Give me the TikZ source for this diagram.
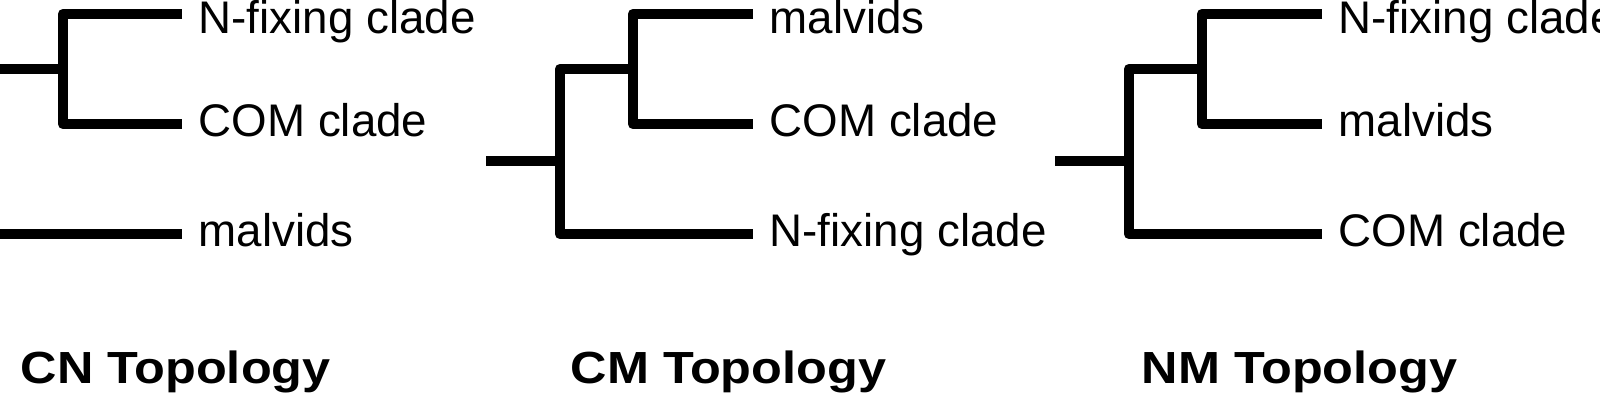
\documentclass[tikz,border=0pt]{standalone}
\usepackage{fontspec}
\setmainfont{Liberation Sans}
\newfontfamily\topofont[FakeStretch=1.12]{Liberation Sans}
\usetikzlibrary{positioning}
\tikzset{
    branch/.style={line width=3pt, line join=round},
    taxon/.style={anchor=west, inner sep=0pt, text height=2.5mm, text depth=0pt, font=\fontsize{13}{15}\selectfont},
    uppertaxon/.style={taxon, yshift=-0.7mm},
    topo/.style={anchor=base west, inner sep=0pt, font=\topofont\bfseries\fontsize{12.8}{15}\selectfont}
}
\begin{document}
\begin{tikzpicture}[x=0.01cm, y=-0.01cm]
    \useasboundingbox (0,0) rectangle (1600,400);
    \clip (0,0) rectangle (1600,400);

    % CN topology, root lies left of the frame
    \coordinate (r1) at (-84,161);
    \coordinate (o1) at (-10,161);
    \coordinate (i1) at (63,69);
    \coordinate (a1) at (182,14);
    \coordinate (b1) at (182,124);
    \coordinate (c1) at (182,234);
    \draw[branch] (a1) -| (i1) |- (b1);
    \draw[branch] (i1) -| (o1) |- (c1);
    \draw[branch] (r1) -- (o1);
    \node[uppertaxon, right=1.6mm of a1] (na1) {N-fixing clade};
    \node[taxon, right=1.6mm of b1] (nb1) {COM clade};
    \node[taxon, right=1.6mm of c1] (nc1) {malvids};
    \node[topo] (cn) at (20,383) {CN Topology};

    % CM topology
    \coordinate (r2) at (486,161);
    \coordinate (o2) at (560,161);
    \coordinate (i2) at (633,69);
    \coordinate (a2) at (753,14);
    \coordinate (b2) at (753,124);
    \coordinate (c2) at (753,234);
    \draw[branch] (a2) -| (i2) |- (b2);
    \draw[branch] (i2) -| (o2) |- (c2);
    \draw[branch] (r2) -- (o2);
    \node[uppertaxon, right=1.6mm of a2] (na2) {malvids};
    \node[taxon, right=1.6mm of b2] (nb2) {COM clade};
    \node[taxon, right=1.6mm of c2] (nc2) {N-fixing clade};
    \node[topo] (cm) at (570,383) {CM Topology};

    % NM topology
    \coordinate (r3) at (1055,161);
    \coordinate (o3) at (1129,161);
    \coordinate (i3) at (1202,69);
    \coordinate (a3) at (1322,14);
    \coordinate (b3) at (1322,124);
    \coordinate (c3) at (1322,234);
    \draw[branch] (a3) -| (i3) |- (b3);
    \draw[branch] (i3) -| (o3) |- (c3);
    \draw[branch] (r3) -- (o3);
    \node[uppertaxon, right=1.6mm of a3] (na3) {N-fixing clade};
    \node[taxon, right=1.6mm of b3] (nb3) {malvids};
    \node[taxon, right=1.6mm of c3] (nc3) {COM clade};
    \node[topo] (nm) at (1141,383) {NM Topology};
\end{tikzpicture}
\end{document}
